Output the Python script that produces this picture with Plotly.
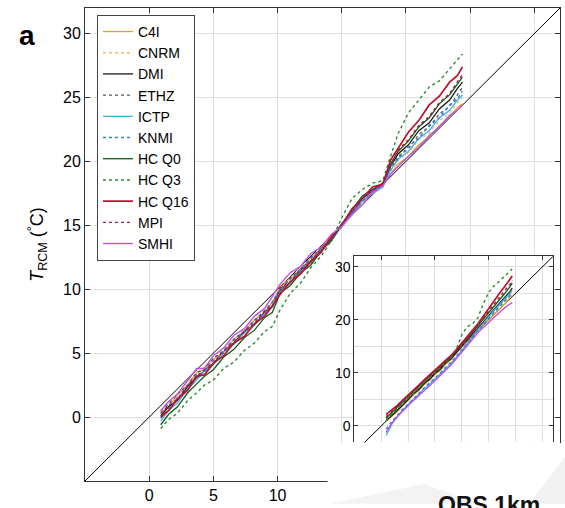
import plotly.graph_objects as go

# ---------------- data ----------------
NAMES = ["C4I", "CNRM", "DMI", "ETHZ", "ICTP", "KNMI", "HC Q0", "HC Q3", "HC Q16", "MPI", "SMHI"]

X_MAIN = [0.9, 1.5, 2.2, 3.0, 3.7, 4.3, 5.0, 5.8, 6.6, 7.4, 8.2, 9.0, 9.6, 10.2, 11.0, 11.8, 12.6, 13.4,
          14.2, 15.0, 15.8, 16.6, 17.4, 18.2, 18.8, 19.4, 20.2, 21.0, 21.8, 22.6, 23.4, 24.0, 24.4]

C4I_MAIN = [0.3, 0.8, 1.7, 2.5, 3.5, 3.7, 4.5, 5.1, 6.1, 6.7, 7.6, 8.2, 9.0, 10.1, 10.9, 11.5, 12.5, 13.1, 14.2, 14.9,
            15.9, 16.6, 17.6, 18.2, 19.0, 19.8, 20.4, 21.3, 21.9, 22.8, 23.5, 24.2, 24.5]
CNRM_MAIN = [0.4, 1.1, 1.7, 2.8, 3.4, 3.9, 4.5, 5.4, 6.0, 6.9, 7.5, 8.4, 9.0, 10.3, 10.8, 11.8, 12.4, 13.3, 14.0, 15.1,
             15.9, 16.9, 17.5, 18.3, 19.2, 20.1, 20.7, 21.7, 22.2, 23.2, 23.8, 24.6, 25.0]
DMI_MAIN = [0.1, 0.8, 1.3, 2.4, 3.1, 3.6, 4.2, 5.1, 5.8, 6.7, 7.2, 8.2, 8.6, 9.9, 10.5, 11.5, 12.1, 13.1, 13.9, 15.1,
            16.0, 17.1, 17.7, 18.2, 19.6, 20.6, 21.3, 22.4, 23.0, 24.1, 24.8, 25.7, 26.2]
ETHZ_MAIN = [0.5, 1.0, 1.8, 2.5, 3.5, 3.7, 4.6, 5.2, 6.1, 6.7, 7.6, 8.3, 9.0, 10.0, 10.9, 11.6, 12.5, 13.2, 14.1, 15.0,
             16.1, 16.9, 17.8, 18.1, 19.4, 20.4, 21.0, 22.1, 22.7, 23.7, 24.3, 25.2, 25.8]
ICTP_MAIN = [-0.3, 0.5, 1.1, 2.2, 2.9, 3.6, 4.1, 5.1, 5.7, 6.6, 7.2, 8.1, 8.6, 9.8, 10.5, 11.6, 12.2, 13.1, 13.8, 14.9,
             15.8, 16.9, 17.5, 18.0, 19.3, 20.2, 20.8, 21.8, 22.4, 23.4, 24.0, 24.8, 25.2]
KNMI_MAIN = [-0.1, 0.6, 1.5, 2.2, 3.3, 3.5, 4.4, 5.0, 6.0, 6.6, 7.5, 8.1, 9.0, 9.9, 10.8, 11.4, 12.4, 13.0, 14.1, 14.9,
             16.1, 16.8, 17.8, 18.1, 19.6, 20.2, 21.2, 21.8, 22.8, 23.4, 24.4, 24.9, 25.5]
HCQ0_MAIN = [-0.6, 0.2, 0.8, 1.9, 2.6, 3.2, 3.7, 4.7, 5.3, 6.2, 6.8, 7.8, 8.2, 9.7, 10.3, 11.3, 11.9, 13.0, 13.8, 15.1,
             16.2, 17.3, 17.8, 18.3, 19.8, 20.8, 21.6, 22.7, 23.4, 24.5, 25.2, 26.1, 26.6]
HCQ3_MAIN = [-0.9, -0.2, 0.3, 1.3, 1.9, 2.5, 2.9, 3.8, 4.3, 5.2, 5.8, 6.7, 7.1, 8.4, 9.7, 10.5, 11.7, 12.6, 13.8, 15.6,
             17.1, 17.8, 18.3, 18.5, 20.4, 22.2, 23.8, 24.8, 25.8, 26.3, 27.2, 27.9, 28.4]
HCQ16_MAIN = [0.0, 0.5, 1.4, 2.1, 3.2, 3.3, 4.2, 4.8, 5.8, 6.3, 7.3, 7.9, 8.7, 9.6, 10.6, 11.2, 12.2, 12.9, 14.1, 15.0,
              16.3, 17.1, 18.0, 18.2, 20.1, 21.0, 22.3, 23.2, 24.4, 25.1, 26.2, 26.7, 27.4]
MPI_MAIN = [0.3, 0.9, 1.4, 2.5, 3.2, 3.7, 4.2, 5.2, 5.8, 6.7, 7.3, 8.3, 8.7, 10.1, 10.6, 11.6, 12.2, 13.2, 13.9, 15.1,
            16.0, 17.1, 17.7, 18.3, 19.7, 20.9, 21.7, 22.8, 23.5, 24.6, 25.3, 26.2, 26.8]
SMHI_MAIN = [0.5, 1.2, 1.8, 2.9, 3.8, 3.8, 4.8, 5.4, 6.4, 6.9, 7.9, 8.5, 9.4, 10.4, 11.3, 11.8, 12.8, 13.3, 14.3, 14.9,
             15.9, 16.6, 17.6, 18.1, 19.0, 19.6, 20.4, 21.1, 22.0, 22.7, 23.6, 24.0, 24.4]

X_INSET = [0.9, 2, 3, 4, 5, 6, 7, 8, 9, 10, 11, 12, 13, 14, 15, 16, 17, 18, 19, 20, 21, 22, 23, 24, 24.4]

C4I_INSET = [0.9, 1.9, 2.7, 4.0, 4.8, 5.9, 6.7, 7.8, 8.6, 9.7, 10.5, 11.7, 12.5, 13.8, 14.8, 15.9, 16.9, 18.0, 19.0,
             20.1, 21.0, 22.1, 23.0, 24.2, 24.6]
CNRM_INSET = [1.2, 2.2, 3.0, 4.2, 5.1, 6.0, 7.1, 7.9, 9.0, 9.8, 10.9, 11.8, 12.9, 13.9, 15.0, 16.0, 17.2, 18.1, 19.3,
              20.3, 21.4, 22.4, 23.5, 24.6, 25.1]
DMI_INSET = [1.0, 2.0, 3.1, 3.9, 5.0, 6.1, 6.9, 8.0, 8.8, 9.9, 10.7, 11.9, 12.7, 13.9, 15.0, 16.2, 17.3, 18.5, 19.6,
             20.9, 22.0, 23.1, 24.2, 25.4, 26.0]
ETHZ_INSET = [1.4, 2.4, 3.3, 4.3, 5.3, 6.2, 7.3, 8.1, 9.2, 10.0, 11.0, 12.0, 13.0, 14.0, 15.1, 16.1, 17.1, 18.4, 19.4,
              20.6, 21.7, 22.7, 23.8, 25.0, 25.6]
ICTP_INSET = [-1.8, 0.4, 1.7, 3.0, 4.0, 5.0, 6.1, 7.0, 7.9, 8.9, 9.8, 10.8, 11.8, 13.0, 14.3, 15.6, 16.9, 18.2, 19.5,
              20.6, 21.8, 22.9, 24.0, 25.0, 25.5]
KNMI_INSET = [-0.6, 0.9, 2.0, 3.2, 4.1, 5.2, 6.1, 7.2, 8.1, 9.0, 10.0, 11.1, 12.0, 13.2, 14.4, 15.6, 16.8, 18.0, 19.1,
              20.3, 21.4, 22.5, 23.6, 24.6, 25.0]
HCQ0_INSET = [1.5, 2.6, 3.5, 4.5, 5.6, 6.5, 7.5, 8.5, 9.4, 10.3, 11.2, 12.2, 13.1, 14.1, 15.3, 16.5, 17.6, 18.8, 20.1,
              21.4, 22.6, 23.8, 25.0, 26.3, 27.0]
HCQ3_INSET = [1.0, 2.3, 3.2, 4.4, 5.4, 6.3, 7.2, 8.3, 9.2, 10.1, 11.0, 12.0, 12.9, 14.5, 17.2, 18.7, 19.3, 20.4, 23.0,
              25.2, 26.4, 27.3, 28.2, 29.2, 29.6]
HCQ16_INSET = [2.2, 3.0, 3.9, 4.9, 5.8, 6.8, 7.7, 8.7, 9.6, 10.5, 11.4, 12.4, 13.3, 14.4, 15.6, 16.9, 18.1, 19.3, 20.7,
               22.2, 23.7, 25.0, 26.3, 27.6, 28.3]
MPI_INSET = [1.8, 2.8, 3.7, 4.7, 5.7, 6.6, 7.6, 8.5, 9.5, 10.4, 11.3, 12.2, 13.2, 14.2, 15.4, 16.6, 17.8, 19.0, 20.3,
             21.7, 23.0, 24.2, 25.4, 26.8, 27.5]
SMHI_INSET = [-1.2, 0.6, 1.8, 2.9, 3.8, 4.8, 5.7, 6.7, 7.6, 8.6, 9.5, 10.5, 11.5, 12.7, 14.0, 15.3, 16.5, 17.6, 18.6,
              19.6, 20.5, 21.4, 22.3, 23.0, 23.3]

DIAG = [-5, 32]
MAIN_TICKS = [0, 5, 10, 15, 20, 25, 30]
MAIN_X_LABELS = ["0", "5", "10", "", "", "", ""]   # labels right of 10 are hidden under the inset area
MAIN_Y_LABELS = ["0", "5", "10", "15", "20", "25", "30"]

MAIN = dict(zip(NAMES, [C4I_MAIN, CNRM_MAIN, DMI_MAIN, ETHZ_MAIN, ICTP_MAIN, KNMI_MAIN, HCQ0_MAIN, HCQ3_MAIN,
                        HCQ16_MAIN, MPI_MAIN, SMHI_MAIN]))
INSET = dict(zip(NAMES, [C4I_INSET, CNRM_INSET, DMI_INSET, ETHZ_INSET, ICTP_INSET, KNMI_INSET, HCQ0_INSET, HCQ3_INSET,
                         HCQ16_INSET, MPI_INSET, SMHI_INSET]))

# ---------------- styles ----------------
STYLE = {
    "C4I": ("#E8A317", "solid", 1.3),
    "CNRM": ("#F2BE6E", "dot", 1.3),
    "DMI": ("#1a1a1a", "solid", 1.3),
    "ETHZ": ("#555555", "dot", 1.3),
    "ICTP": ("#3DB5E8", "solid", 1.3),
    "KNMI": ("#2E7FD8", "dot", 1.4),
    "HC Q0": ("#0E5E14", "solid", 1.3),
    "HC Q3": ("#2E8B2E", "dot", 1.4),
    "HC Q16": ("#C0102C", "solid", 1.7),
    "MPI": ("#9A1E4E", "dot", 1.4),
    "SMHI": ("#C050E8", "solid", 1.4),
}

W, H = 565, 508
L, R, T, B = 85, 4, 8, 22
FONT = "Liberation Sans, Arial, sans-serif"
GRID = "#dedede"
AXC = "#333333"


def pxx(px):
    return (px - L) / (W - L - R)


def pxy(py):
    return (H - B - py) / (H - T - B)


fig = go.Figure()
fig.add_trace(go.Scatter(x=DIAG, y=DIAG, mode="lines", line=dict(color="black", width=1),
                         showlegend=False, hoverinfo="skip"))
for n in NAMES:
    c, d, w = STYLE[n]
    fig.add_trace(go.Scatter(x=X_MAIN, y=MAIN[n], mode="lines", name=n, legendgroup=n,
                             line=dict(color=c, dash=d, width=w)))

fig.add_trace(go.Scatter(x=DIAG, y=DIAG, mode="lines", line=dict(color="black", width=1),
                         showlegend=False, hoverinfo="skip", xaxis="x2", yaxis="y2"))
for n in NAMES:
    c, d, w = STYLE[n]
    fig.add_trace(go.Scatter(x=X_INSET, y=INSET[n], mode="lines", name=n, legendgroup=n, showlegend=False,
                             line=dict(color=c, dash=d, width=w), xaxis="x2", yaxis="y2"))

main_axis = dict(range=[-5, 32], tickvals=MAIN_TICKS, showgrid=True, gridcolor=GRID, gridwidth=1,
                 showline=True, linecolor=AXC, linewidth=1, mirror="ticks", ticks="inside", ticklen=5,
                 tickcolor=AXC, tickfont=dict(size=16, color="black"), zeroline=False)

fig.update_layout(
    width=W, height=H, margin=dict(l=L, r=R, t=T, b=B),
    paper_bgcolor="white", plot_bgcolor="white",
    font=dict(family=FONT, color="black"),
    xaxis=dict(main_axis, domain=[0, 1], ticktext=MAIN_X_LABELS),
    yaxis=dict(main_axis, domain=[0, 1], ticktext=MAIN_Y_LABELS,
               title=dict(text="<i>T</i><sub>RCM</sub> (<sup>°</sup>C)", font=dict(size=18), standoff=14)),
    xaxis2=dict(domain=[pxx(355), pxx(554)], anchor="y2", range=[-5, 32], side="top", tick0=0, dtick=10,
                showticklabels=False, showgrid=True, gridcolor=GRID,
                minor=dict(dtick=5, showgrid=True, gridcolor=GRID),
                showline=True, linecolor=AXC, linewidth=1, ticks="inside", ticklen=4, tickcolor=AXC,
                zeroline=False),
    yaxis2=dict(domain=[pxy(447), pxy(259)], anchor="x2", range=[-3.1, 32], tick0=0, dtick=10,
                showgrid=True, gridcolor=GRID, minor=dict(dtick=5, showgrid=True, gridcolor=GRID),
                showline=True, linecolor=AXC, linewidth=1, mirror="ticks", ticks="inside", ticklen=4,
                tickcolor=AXC, tickfont=dict(size=14, color="black"), zeroline=False),
    legend=dict(x=pxx(97), y=pxy(15), xanchor="left", yanchor="top", bgcolor="white",
                bordercolor="#444444", borderwidth=1, font=dict(size=14, color="black"),
                itemwidth=30, tracegroupgap=0),
    shapes=[
        dict(type="rect", xref="paper", yref="paper", x0=pxx(328), x1=pxx(566), y0=pxy(509), y1=pxy(447.5),
             fillcolor="white", line=dict(width=0), layer="above"),
        dict(type="path", xref="paper", yref="paper",
             path=f"M {pxx(330)} {pxy(509)} L {pxx(425)} {pxy(489)} L {pxx(480)} {pxy(509)} Z",
             fillcolor="#f3f3f3", line=dict(width=0), layer="above"),
        dict(type="path", xref="paper", yref="paper",
             path=f"M {pxx(530)} {pxy(509)} L {pxx(566)} {pxy(462)} L {pxx(566)} {pxy(509)} Z",
             fillcolor="#f1f1f1", line=dict(width=0), layer="above"),
    ],
    annotations=[
        dict(text="<b>a</b>", x=pxx(27), y=pxy(36), xref="paper", yref="paper", showarrow=False,
             font=dict(size=28, color="black"), xanchor="center", yanchor="middle"),
        dict(text="<b>OBS 1km</b>", x=pxx(490), y=pxy(495), xref="paper", yref="paper", showarrow=False,
             font=dict(size=23, color="#111111"), xanchor="center", yanchor="top"),
    ],
)

fig.write_html("out.html")
